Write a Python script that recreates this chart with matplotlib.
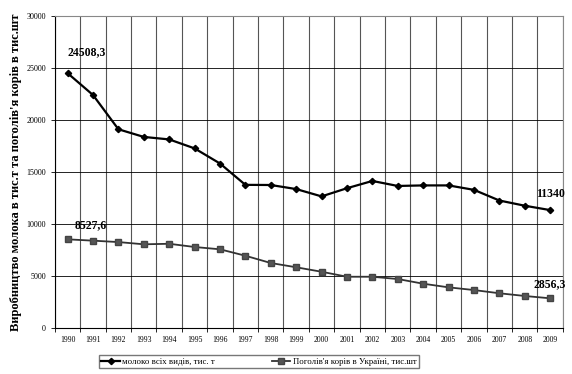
import numpy as np
import matplotlib.pyplot as plt

plt.rcParams['font.family'] = ['Liberation Serif', 'DejaVu Serif']

years = [str(y) for y in range(1990, 2010)]
milk = [24508.3, 22408.7, 19114.0, 18376.7, 18138.0, 17274.3, 15821.3, 13767.8, 13753.4, 13362.4,
        12657.9, 13444.4, 14142.4, 13661.0, 13714.0, 13714.0, 13287.0, 12262.0, 11761.0, 11340.0]
cows = [8527.6, 8400.0, 8265.0, 8050.0, 8100.0, 7790.0, 7570.0, 6950.0, 6250.0, 5840.0,
        5410.0, 4930.0, 4930.0, 4710.0, 4260.0, 3910.0, 3650.0, 3340.0, 3080.0, 2856.3]
milk_label = 'молоко всіх видів, тис. т'
cows_label = "Поголів'я корів в Україні, тис.шт"
y_title = "Виробництво молока в тис.т та поголів'я корів в тис.шт"

fig = plt.figure(figsize=(5.72, 3.74), dpi=100)
ax = fig.add_axes([0.096, 0.123, 0.888, 0.834])

x = np.arange(len(years))
ax.plot(x, milk, color='black', linewidth=1.6, marker='D', markersize=3.2,
        markerfacecolor='black', label=milk_label)
ax.plot(x, cows, color='#333333', linewidth=1.3, marker='s', markersize=4.5,
        markerfacecolor='#555555', markeredgecolor='#444444', label=cows_label)

ax.set_xlim(-0.5, len(years) - 0.5)
ax.set_ylim(0, 30000)
ax.set_yticks(np.arange(0, 30001, 5000))
ax.set_xticks(x)
ax.set_xticklabels(years)
ax.set_xticks(np.arange(-0.5, len(years), 1), minor=True)
ax.tick_params(axis='x', which='major', length=0, labelsize=5.5, pad=6)
ax.tick_params(axis='x', which='minor', length=3, width=0.6)
ax.tick_params(axis='y', labelsize=5.8, length=3, width=0.6)
ax.grid(True, axis='y', color='black', linewidth=0.6)
ax.grid(True, axis='x', which='minor', color='#555555', linewidth=0.8)
ax.set_axisbelow(True)
for s in ['top', 'right']:
    ax.spines[s].set_color('#888888')
    ax.spines[s].set_linewidth(0.8)
for s in ['left', 'bottom']:
    ax.spines[s].set_linewidth(0.8)

ax.set_ylabel(y_title, fontsize=9, fontweight='bold', labelpad=3)

ax.annotate('24508,3', (x[0], milk[0]), xytext=(0, 11), textcoords='offset points',
            ha='left', va='bottom', fontsize=8.5, fontweight='bold')
ax.annotate('8527,6', (x[0], cows[0]), xytext=(5, 6), textcoords='offset points',
            ha='left', va='bottom', fontsize=8.5, fontweight='bold')
ax.annotate('11340', (x[-1], milk[-1]), xytext=(11, 7), textcoords='offset points',
            ha='right', va='bottom', fontsize=8.5, fontweight='bold')
ax.annotate('2856,3', (x[-1], cows[-1]), xytext=(11, 6), textcoords='offset points',
            ha='right', va='bottom', fontsize=8.5, fontweight='bold')

fig.legend(loc='center', bbox_to_anchor=(0.453, 0.033), ncol=2, fontsize=6.3,
           frameon=True, fancybox=False, edgecolor='#555555', columnspacing=6.5,
           handlelength=2.1, handletextpad=0.3, borderpad=0.3, borderaxespad=0)

fig.savefig('out.png', dpi=100)
